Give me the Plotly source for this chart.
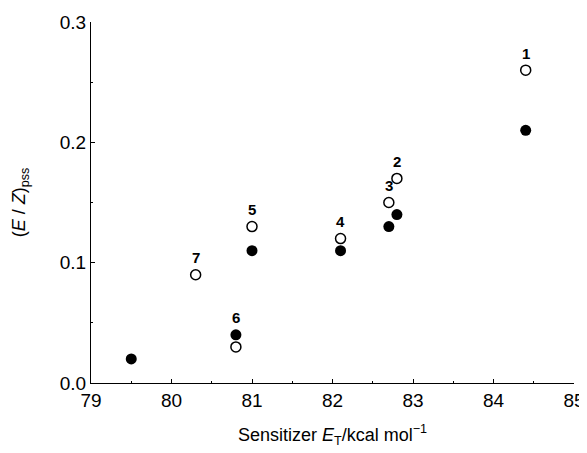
import plotly.graph_objects as go

# Data
sens_open_x = [84.4, 82.8, 82.7, 82.1, 81.0, 80.8, 80.3]
ez_open = [0.26, 0.17, 0.15, 0.12, 0.13, 0.03, 0.09]
sens_filled_x = [84.4, 82.8, 82.7, 82.1, 81.0, 80.8, 79.5]
ez_filled = [0.21, 0.14, 0.13, 0.11, 0.11, 0.04, 0.02]

# Compound labels anchored above a point
label_text = ["1", "2", "3", "4", "5", "6", "7"]
label_x = [84.4, 82.8, 82.7, 82.1, 81.0, 80.8, 80.3]
label_y = [0.26, 0.17, 0.15, 0.12, 0.13, 0.04, 0.09]

x_ticks = [79, 80, 81, 82, 83, 84, 85]
y_ticks = [0.0, 0.1, 0.2, 0.3]
y_tick_text = ["0.0", "0.1", "0.2", "0.3"]

FONT = "Liberation Sans, Arial, Helvetica, sans-serif"

fig = go.Figure()
fig.add_trace(go.Scatter(
    x=sens_open_x, y=ez_open, mode="markers",
    marker=dict(symbol="circle-open", size=10, color="black",
                line=dict(width=1.5, color="black")),
    showlegend=False, cliponaxis=False))
fig.add_trace(go.Scatter(
    x=sens_filled_x, y=ez_filled, mode="markers",
    marker=dict(symbol="circle", size=11, color="black"),
    showlegend=False, cliponaxis=False))

for t, x, y in zip(label_text, label_x, label_y):
    fig.add_annotation(x=x, y=y, text=f"<b>{t}</b>", showarrow=False,
                       yshift=17, font=dict(family=FONT, size=15, color="black"))

fig.update_layout(
    width=579, height=445,
    margin=dict(l=83, r=13, t=14, b=70),
    paper_bgcolor="white", plot_bgcolor="white",
    font=dict(family=FONT, size=18, color="black"),
    xaxis=dict(range=[79, 85], tickvals=x_ticks, ticktext=[str(v) for v in x_ticks],
               showline=True, linecolor="black", linewidth=1,
               ticks="inside", ticklen=4, tickcolor="black",
               minor=dict(tickvals=[79.5, 80.5, 81.5, 82.5, 83.5, 84.5], ticks="inside",
                          ticklen=2, tickcolor="black"),
               showgrid=False, zeroline=False, automargin=False,
               title=dict(text="Sensitizer <i>E</i><sub>T</sub>/kcal mol<sup>−1</sup>",
                          font=dict(size=18), standoff=18),
               tickfont=dict(size=19)),
    yaxis=dict(range=[0, 0.3], tickvals=y_ticks, ticktext=y_tick_text,
               showline=True, linecolor="black", linewidth=1,
               ticks="inside", ticklen=4, tickcolor="black",
               minor=dict(tickvals=[0.05, 0.15, 0.25], ticks="inside", ticklen=2, tickcolor="black"),
               showgrid=False, zeroline=False, automargin=False,
               title=dict(text="(<i>E</i> / <i>Z</i>)<sub>pss</sub>", font=dict(size=18), standoff=29),
               tickfont=dict(size=19)),
)

fig.write_html("out.html")
